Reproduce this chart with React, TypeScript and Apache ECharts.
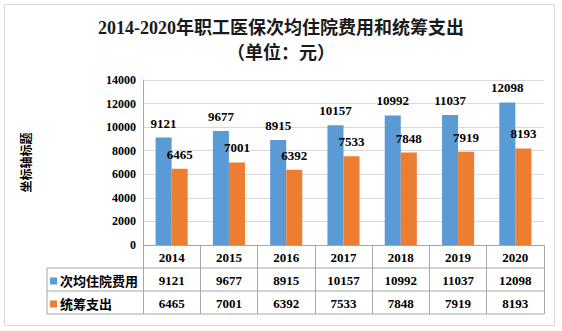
import React, { useEffect, useRef } from "react";
import * as echarts from "echarts";

const titleText = "2014-2020年职工医保次均住院费用和统筹支出\n（单位：元）";
const years = ["2014", "2015", "2016", "2017", "2018", "2019", "2020"];
const seriesNames = ["次均住院费用", "统筹支出"];
const avgCost = [9121, 9677, 8915, 10157, 10992, 11037, 12098];
const poolPay = [6465, 7001, 6392, 7533, 7848, 7919, 8193];
const yAxisName = "坐标轴标题";

const W = 562;
const H = 331;
const G_LEFT = 143;
const G_RIGHT = 18;
const G_TOP = 80;
const G_BOTTOM = 86;
const ROW = 23;
const TABLE_LEFT = 47;
const FONT = '"Liberation Serif", "Noto Sans CJK SC", serif';
const LINE = "#a6a6a6";

export default function App() {
  const ref = useRef<HTMLDivElement>(null);
  useEffect(() => {
    if (!ref.current) return;
    const chart = echarts.init(ref.current, undefined, { renderer: "svg" });
    const axisBottom = H - G_BOTTOM;
    const right = W - G_RIGHT;
    const r1 = axisBottom + ROW;
    const r2 = axisBottom + ROW * 2;
    const r3 = axisBottom + ROW * 3;
    const labelStyle = { fontFamily: FONT, fontWeight: "bold" as const, fontSize: 13, color: "#000" };
    chart.setOption({
      animation: false,
      color: ["#5B9BD5", "#ED7D31"],
      title: {
        text: titleText,
        left: "center",
        top: 10,
        textStyle: { fontFamily: FONT, fontWeight: "bold", fontSize: 18, lineHeight: 25, color: "#1a1a1a" },
      },
      legend: {
        orient: "vertical",
        left: TABLE_LEFT + 3,
        top: r1 + 4,
        itemWidth: 7,
        itemHeight: 7,
        itemGap: 5,
        padding: 0,
        icon: "rect",
        textStyle: { ...labelStyle, lineHeight: 18, padding: [0, 0, 0, -2] },
        data: seriesNames,
      },
      grid: { left: G_LEFT, right: G_RIGHT, top: G_TOP, bottom: G_BOTTOM, containLabel: false },
      xAxis: [
        {
          type: "category",
          data: years,
          position: "bottom",
          axisLine: { show: true, lineStyle: { color: LINE } },
          axisTick: { show: true, length: ROW * 3, alignWithLabel: false, lineStyle: { color: LINE } },
          axisLabel: { ...labelStyle, margin: 6 },
        },
        {
          type: "category",
          data: avgCost.map(String),
          position: "bottom",
          offset: ROW,
          axisLine: { show: false },
          axisTick: { show: false },
          axisLabel: { ...labelStyle, margin: 6 },
        },
        {
          type: "category",
          data: poolPay.map(String),
          position: "bottom",
          offset: ROW * 2,
          axisLine: { show: false },
          axisTick: { show: false },
          axisLabel: { ...labelStyle, margin: 6 },
        },
      ],
      yAxis: {
        type: "value",
        min: 0,
        max: 14000,
        interval: 2000,
        name: yAxisName,
        nameLocation: "middle",
        nameRotate: 90,
        nameGap: 110,
        nameTextStyle: { fontFamily: FONT, fontWeight: "bold", fontSize: 12, color: "#000" },
        axisLine: { show: true, lineStyle: { color: LINE } },
        axisTick: { show: false },
        axisLabel: {
          fontFamily: FONT,
          fontWeight: "bold",
          fontSize: 12,
          color: "#000",
          margin: 7,
          formatter: (v: number) => String(v),
        },
        splitLine: { lineStyle: { color: "#d9d9d9" } },
      },
      series: [
        {
          name: seriesNames[0],
          type: "bar",
          data: avgCost,
          barWidth: "28%",
          barGap: "0%",
          label: { show: true, position: "top", distance: 8, ...labelStyle },
        },
        {
          name: seriesNames[1],
          type: "bar",
          data: poolPay,
          barWidth: "28%",
          barGap: "0%",
          label: { show: true, position: "top", distance: 8, ...labelStyle },
        },
      ],
      graphic: [
        {
          type: "rect",
          shape: { x: 4.5, y: 4.5, width: 550, height: 321 },
          style: { fill: "none", stroke: "#d9d9d9", lineWidth: 1 },
          silent: true,
        },
        {
          type: "line",
          shape: { x1: TABLE_LEFT, y1: r1, x2: right, y2: r1 },
          style: { stroke: LINE, lineWidth: 1 },
        },
        {
          type: "line",
          shape: { x1: TABLE_LEFT, y1: r2, x2: right, y2: r2 },
          style: { stroke: LINE, lineWidth: 1 },
        },
        {
          type: "line",
          shape: { x1: TABLE_LEFT, y1: r3, x2: right, y2: r3 },
          style: { stroke: LINE, lineWidth: 1 },
        },
        {
          type: "line",
          shape: { x1: TABLE_LEFT, y1: r1, x2: TABLE_LEFT, y2: r3 },
          style: { stroke: LINE, lineWidth: 1 },
        },
      ],
    });
    return () => chart.dispose();
  }, []);
  return (
    <div
      ref={ref}
      style={{ position: "absolute", left: 0, top: 0, width: W, height: H, background: "#fff" }}
    />
  );
}
